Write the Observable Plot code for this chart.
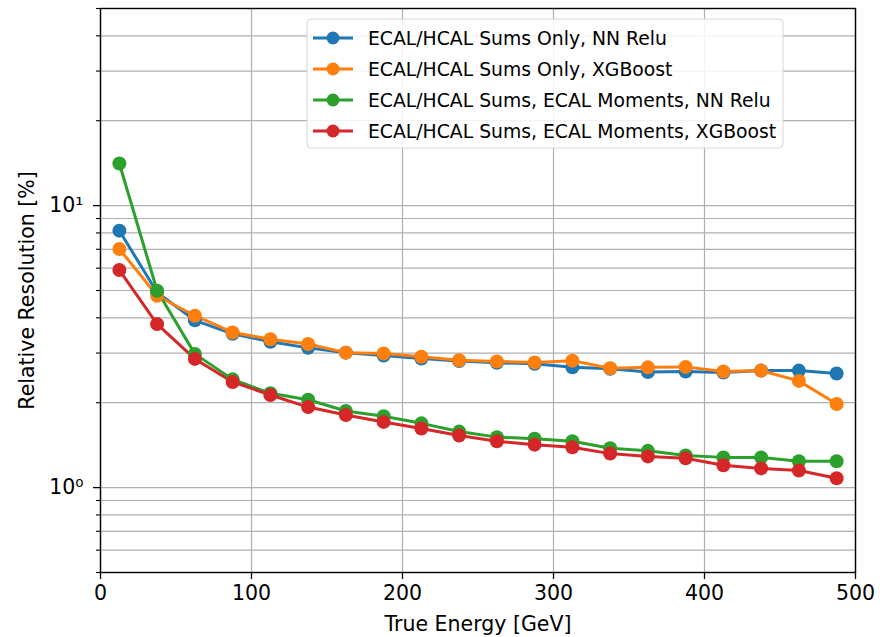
<!DOCTYPE html>
<html>
<head>
<meta charset="utf-8">
<script src="https://cdn.jsdelivr.net/npm/d3@7"></script>
<script src="https://cdn.jsdelivr.net/npm/@observablehq/plot@0.6"></script>
<style>
  html, body { margin: 0; padding: 0; background: #fff; }
  #chart { width: 889px; height: 637px; }
</style>
</head>
<body>
<div id="chart"></div>
<script>
const energies = [12.5, 37.5, 62.5, 87.5, 112.5, 137.5, 162.5, 187.5, 212.5, 237.5, 262.5, 287.5, 312.5, 337.5, 362.5, 387.5, 412.5, 437.5, 462.5, 487.5];
const seriesNames = [
  "ECAL/HCAL Sums Only, NN Relu",
  "ECAL/HCAL Sums Only, XGBoost",
  "ECAL/HCAL Sums, ECAL Moments, NN Relu",
  "ECAL/HCAL Sums, ECAL Moments, XGBoost"
];
const seriesColors = ["#1f77b4", "#ff7f0e", "#2ca02c", "#d62728"];
const sumsNN  = [8.15, 4.92, 3.92, 3.51, 3.29, 3.13, 3.01, 2.94, 2.87, 2.81, 2.77, 2.75, 2.67, 2.64, 2.57, 2.58, 2.56, 2.60, 2.60, 2.54];
const sumsXGB = [7.02, 4.79, 4.07, 3.55, 3.36, 3.23, 3.01, 2.99, 2.91, 2.83, 2.80, 2.78, 2.82, 2.65, 2.67, 2.68, 2.58, 2.60, 2.39, 1.98];
const momNN   = [14.1, 4.99, 2.98, 2.42, 2.16, 2.05, 1.87, 1.79, 1.69, 1.58, 1.51, 1.49, 1.46, 1.38, 1.35, 1.30, 1.28, 1.28, 1.24, 1.24];
const momXGB  = [5.91, 3.80, 2.86, 2.37, 2.13, 1.93, 1.81, 1.71, 1.62, 1.53, 1.46, 1.42, 1.39, 1.32, 1.29, 1.27, 1.20, 1.17, 1.15, 1.08];
const xTicks = [0, 100, 200, 300, 400, 500];
const yMajor = [1, 10];
const yMajorLabels = ["10⁰", "10¹"];
const yMinor = [0.5, 0.6, 0.7, 0.8, 0.9, 2, 3, 4, 5, 6, 7, 8, 9, 20, 30, 40, 50];

const allValues = [sumsNN, sumsXGB, momNN, momXGB];
const data = [];
allValues.forEach((vals, si) => {
  vals.forEach((v, i) => data.push({series: seriesNames[si], x: energies[i], y: v}));
});

const legendMark = () => (index, scales, values, dims, context) => {
  const g = d3.create("svg:g");
  const x0 = 307, y0 = 19, w = 476, h = 129, rowH = 31;
  g.append("rect").attr("x", x0).attr("y", y0).attr("width", w).attr("height", h)
    .attr("rx", 4).attr("fill", "white").attr("fill-opacity", 0.85)
    .attr("stroke", "#d6d6d6").attr("stroke-width", 1);
  seriesNames.forEach((name, i) => {
    const cy = y0 + 19 + i * rowH;
    g.append("line").attr("x1", x0 + 6).attr("x2", x0 + 46).attr("y1", cy).attr("y2", cy)
      .attr("stroke", seriesColors[i]).attr("stroke-width", 3);
    g.append("circle").attr("cx", x0 + 26).attr("cy", cy).attr("r", 6.5).attr("fill", seriesColors[i]);
    g.append("text").attr("x", x0 + 61).attr("y", cy).attr("dy", "0.36em")
      .attr("text-anchor", "start").attr("fill", "black").attr("font-size", 18.8).text(name);
  });
  return g.node();
};

const chart = Plot.plot({
  width: 889,
  height: 637,
  marginLeft: 100,
  marginRight: 34,
  marginTop: 8,
  marginBottom: 65,
  style: {fontFamily: "DejaVu Sans", fontSize: "20.5px", background: "white", color: "black"},
  x: {domain: [0, 500]},
  y: {type: "log", domain: [0.5, 50]},
  color: {domain: seriesNames, range: seriesColors},
  marks: [
    Plot.gridX(xTicks, {stroke: "#b0b0b0", strokeOpacity: 1, strokeWidth: 1.2}),
    Plot.gridY(yMajor.concat(yMinor), {stroke: "#b0b0b0", strokeOpacity: 1, strokeWidth: 1.2}),
    Plot.line(data, {x: "x", y: "y", z: "series", stroke: "series", strokeWidth: 3}),
    Plot.dot(data, {x: "x", y: "y", fill: "series", r: 7}),
    Plot.axisX(xTicks, {tickSize: 7, tickPadding: 6, strokeWidth: 1.3, label: "True Energy [GeV]", labelAnchor: "center", labelArrow: "none", labelOffset: 58, fontSize: 20.5}),
    Plot.axisY(yMajor, {tickSize: 7, tickPadding: 10, strokeWidth: 1.3, tickFormat: d => yMajorLabels[yMajor.indexOf(d)], label: "Relative Resolution [%]", labelAnchor: "center", labelArrow: "none", labelOffset: 81, fontSize: 20.5}),
    Plot.axisY(yMinor, {tickSize: 4, strokeWidth: 1.1, tickFormat: () => "", label: null}),
    Plot.frame({stroke: "black", strokeWidth: 1.4}),
    legendMark()
  ]
});
document.getElementById("chart").appendChild(chart);
</script>
</body>
</html>
